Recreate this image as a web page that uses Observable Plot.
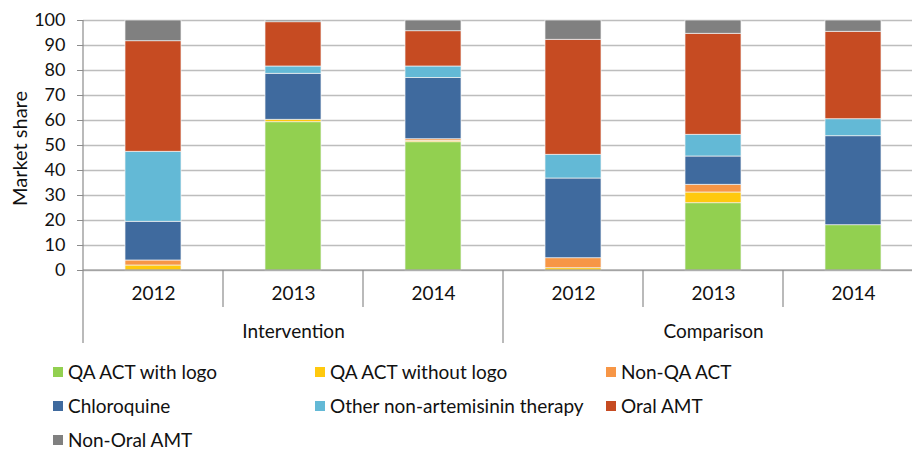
<!DOCTYPE html>
<html><head><meta charset="utf-8">
<script src="https://cdn.jsdelivr.net/npm/d3@7"></script>
<script src="https://cdn.jsdelivr.net/npm/@observablehq/plot@0.6"></script>
<style>
html,body{margin:0;padding:0;background:#fff;overflow:hidden;}
body{font-family:Lato,"Open Sans",sans-serif;color:#111;}
#wrap{position:relative;width:912px;height:450px;}
#legend{position:absolute;left:0;top:355px;width:912px;height:95px;}
.li{position:absolute;display:flex;align-items:center;font-size:19px;white-space:nowrap;line-height:16px;height:16px;}
.sw{width:10px;height:10px;margin-right:5px;flex:none;}
</style></head><body>
<div id="wrap"><div id="chart"></div><div id="legend"></div></div>
<script>
// ---- data ----
const groups = ["Intervention","Intervention","Intervention","Comparison","Comparison","Comparison"];
const years = ["2012","2013","2014","2012","2013","2014"];
const seriesNames = ["QA ACT with logo","QA ACT without logo","Non-QA ACT","Chloroquine","Other non-artemisinin therapy","Oral AMT","Non-Oral AMT"];
const seriesColors = ["#92d050","#ffc90e","#f79646","#3f6a9e","#63b9d6","#c64b22","#808080"];
const qaWithLogo    = [0,    59.3, 51.3, 0,    26.9, 18.1];
const qaWithoutLogo = [2.0,  1.0,  0.6,  0.9,  4.3,  0];
const nonQaAct      = [2.0,  0,    0.6,  4.0,  3.1,  0];
const chloroquine   = [15.5, 18.4, 24.5, 31.9, 11.3, 35.6];
const otherNonArt   = [28.0, 2.9,  4.6,  9.5,  8.7,  6.8];
const oralAmt       = [44.2, 17.7, 14.1, 46.0, 40.4, 35.0];
const nonOralAmt    = [8.3,  0.7,  4.3,  7.7,  5.3,  4.5];
const yTicks = [0,10,20,30,40,50,60,70,80,90,100];
const yLabel = "Market share";

// ---- build table ----
const seriesValues = [qaWithLogo, qaWithoutLogo, nonQaAct, chloroquine, otherNonArt, oralAmt, nonOralAmt];
const keys = groups.map((g,i) => g + " " + years[i]);
const yearOf = new Map(keys.map((k,i) => [k, years[i]]));
const rows = [];
seriesNames.forEach((s, si) => keys.forEach((k, i) => rows.push({key:k, series:s, value:seriesValues[si][i]})));
const groupNames = Array.from(new Set(groups));
const groupLabels = groupNames.map(g => {
  const ks = keys.filter((k,i) => groups[i] === g);
  return {group:g, key: ks[Math.floor(ks.length/2)]};
});

const plot = Plot.plot({
  width: 912, height: 355,
  marginLeft: 83, marginRight: -11, marginTop: 20, marginBottom: 85,
  style: {fontFamily: "Lato, 'Open Sans', sans-serif", fontSize: "18px", color: "#111", overflow: "visible", background:"transparent"},
  x: {domain: keys, paddingInner: 0.6, paddingOuter: 0.3, axis: null, label: null},
  y: {domain: [0,100], axis: null, label: null},
  color: {domain: seriesNames, range: seriesColors},
  marks: [
    Plot.gridY(yTicks, {stroke: "#bdbdbd", strokeOpacity: 1, strokeWidth: 1.4}),
    Plot.barY(rows, {x: "key", y: "value", fill: "series", stroke: "#f2f2f2", strokeWidth: 0.7}),
    Plot.axisY(yTicks, {tickSize: 6, tickPadding: 12, stroke: "#8c8c8c", fontSize: 18, label: null}),
    Plot.axisX({tickSize: 0, tickPadding: 16, fontSize: 19, tickFormat: k => yearOf.get(k), label: null}),
    Plot.text(groupLabels, {x: "key", text: "group", frameAnchor: "bottom", dy: 61, lineAnchor: "middle", fontSize: 19}),
    Plot.text([yLabel], {frameAnchor: "left", textAnchor: "middle", rotate: -90, dx: -63, dy: 3, fontSize: 20, lineAnchor: "middle"})
  ]
});
document.getElementById("chart").appendChild(plot);

// axis lines and category dividers, positioned from Plot's x/y scales
const xs = plot.scale("x"), ys = plot.scale("y");
const svg = d3.select(plot);
const y0 = ys.apply(0), y100 = ys.apply(100);
const bw = xs.bandwidth, st = xs.step;
const boundary = i => xs.apply(keys[i]) + bw/2 - st/2;
const g = svg.append("g").attr("stroke", "#8c8c8c").attr("stroke-width", 1.2);
g.append("line").attr("x1", boundary(0)).attr("x2", boundary(0)).attr("y1", y100).attr("y2", y0);
g.append("line").attr("x1", boundary(0)).attr("x2", 912).attr("y1", y0).attr("y2", y0);
keys.forEach((k, i) => {
  if (i === 0) return;
  const newGroup = groups[i] !== groups[i-1];
  const x = boundary(i);
  g.append("line").attr("x1", x).attr("x2", x).attr("y1", y0).attr("y2", y0 + (newGroup ? 73 : 37));
});
g.append("line").attr("x1", boundary(0)).attr("x2", boundary(0)).attr("y1", y0).attr("y2", y0 + 73);

// legend
const legendCols = [53, 315, 606];
const legendRows = [364, 398, 432];
const leg = document.getElementById("legend");
seriesNames.forEach((s, i) => {
  const d = document.createElement("div");
  d.className = "li";
  d.style.left = legendCols[i % 3] + "px";
  d.style.top = (legendRows[Math.floor(i/3)] - 355) + "px";
  d.innerHTML = `<span class="sw" style="background:${seriesColors[i]}"></span><span>${s}</span>`;
  leg.appendChild(d);
});
</script>
</body></html>
